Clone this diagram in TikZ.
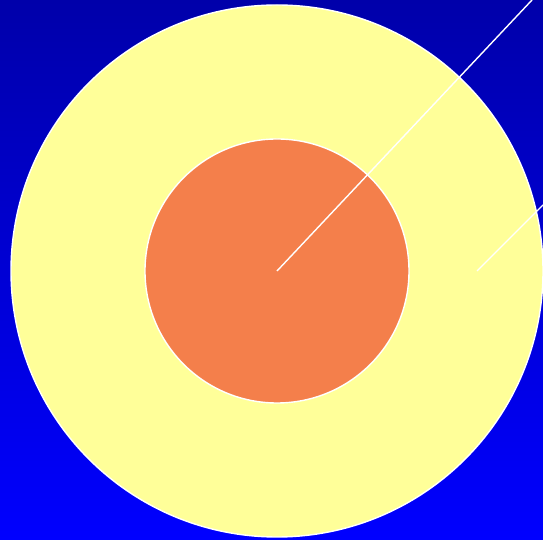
\documentclass[tikz,border=0pt]{standalone}
\usetikzlibrary{positioning}
\definecolor{SkyTop}{HTML}{0000AA}
\definecolor{SkyBot}{HTML}{0000FF}
\definecolor{RingYellow}{HTML}{FFFF99}
\definecolor{CoreOrange}{HTML}{F47F4B}
\begin{document}
\begin{tikzpicture}[x=1pt,y=1pt,
  disc/.style={draw=white,line width=1.4pt,circle,inner sep=0pt}]
  \shade[top color=SkyTop,bottom color=SkyBot] (0,0) rectangle (543,540);
  \useasboundingbox (0,0) rectangle (543,540);
  \node[disc,fill=RingYellow,minimum size=532pt] (ring) at (277,269) {};
  \node[disc,fill=CoreOrange,minimum size=264pt] (core) at (ring) {};
  \coordinate (tipa) at (532,540);
  \coordinate (basb) at (477,269);
  \coordinate (tipb) at (543,335);
  \draw[white,line width=1.4pt] (core.center) -- (tipa);
  \draw[white,line width=1.4pt] (basb) -- (tipb);
\end{tikzpicture}
\end{document}
